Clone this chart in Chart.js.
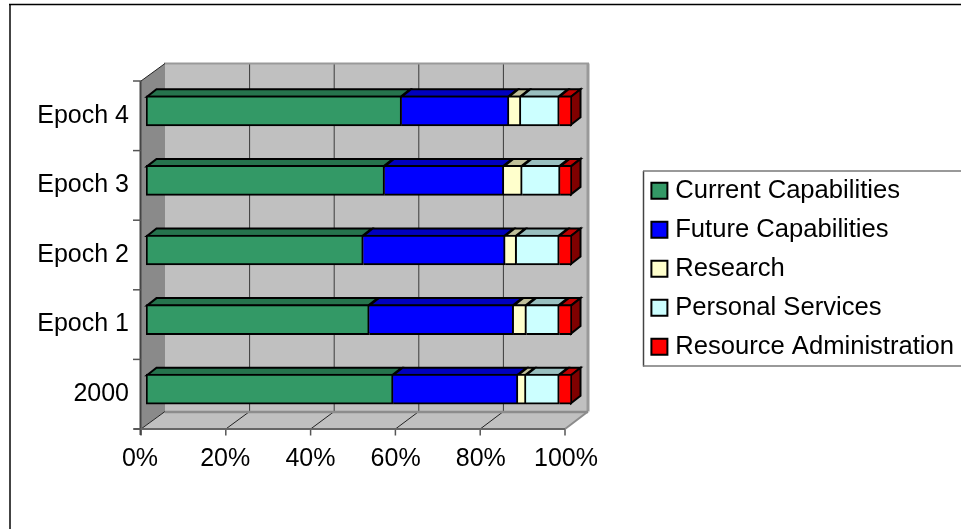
<!DOCTYPE html>
<html>
<head>
<meta charset="utf-8">
<style>
html,body{margin:0;padding:0;background:#fff}
#wrap{position:absolute;left:0;top:0;width:961px;height:529px}
</style>
<script src="https://cdn.jsdelivr.net/npm/chart.js@4"></script>
</head>
<body>
<div id="wrap"><canvas id="c" width="961" height="529"></canvas></div>
<script>
// Budget shares by period, listed from the bottom row to the top row
const categories = ['2000', 'Epoch 1', 'Epoch 2', 'Epoch 3', 'Epoch 4'];
const currentCapabilities = [58, 52.4, 51, 56, 60];
const futureCapabilities = [29.3, 33.9, 33.3, 28, 25.2];
const research = [1.9, 3, 2.7, 4.3, 2.8];
const personalServices = [7.8, 7.7, 10, 8.9, 9];
const resourceAdministration = [3, 3, 3, 2.8, 3];
const percentTicks = [0, 20, 40, 60, 80, 100];

const FONT = 'Liberation Sans, Arial, sans-serif';
const TEXT_SIZE = 25;
const LEGEND_SIZE = 25.6;

// Pseudo-3D offsets relative to the plane the bars sit on
const FRONT = {left: -5, right: -7, dy: 5};
const BACK = {left: 19, right: 16, dy: -12.5};
const BAR_DEPTH = {dx: 9.5, dy: -7.5};
const BAR_THICK = 30;

function shade(hex, f) {
  const n = parseInt(hex.slice(1), 16);
  const c = [n >> 16, (n >> 8) & 255, n & 255].map(v => Math.round(v * f));
  return `rgb(${c[0]},${c[1]},${c[2]})`;
}

function poly(ctx, pts, fill, stroke, width) {
  ctx.beginPath();
  pts.forEach((p, i) => i ? ctx.lineTo(p[0], p[1]) : ctx.moveTo(p[0], p[1]));
  ctx.closePath();
  if (fill) { ctx.fillStyle = fill; ctx.fill(); }
  if (stroke) { ctx.strokeStyle = stroke; ctx.lineWidth = width; ctx.lineJoin = 'miter'; ctx.stroke(); }
}

function seg(ctx, x1, y1, x2, y2, color, width) {
  ctx.beginPath();
  ctx.moveTo(x1, y1);
  ctx.lineTo(x2, y2);
  ctx.strokeStyle = color;
  ctx.lineWidth = width;
  ctx.stroke();
}

// Walls, floor, gridlines and axis lines of the 3D box, positioned from the scales
const boxPlugin = {
  id: 'box3d',
  afterLayout(chart) {
    const lg = chart.legend;
    lg.left = 643; lg.right = 961; lg.top = 164.5; lg.bottom = 400;
    lg.width = lg.right - lg.left; lg.height = lg.bottom - lg.top;
  },
  beforeDatasetsDraw(chart) {
    const {ctx, scales: {x, y}, chartArea: a} = chart;
    const L = a.left, R = a.right, T = a.top, B = a.bottom;
    ctx.save();

    // outer chart frame, open on the right and at the bottom
    seg(ctx, 10, 4, 10, 529, '#444', 2);
    seg(ctx, 9, 4.5, 961, 4.5, '#000', 1.5);

    // legend frame, open on the right
    seg(ctx, 643.5, 171, 643.5, 366.5, '#444', 1.5);
    seg(ctx, 643, 171, 961, 171, '#777', 1.5);
    seg(ctx, 643, 366, 961, 366, '#777', 1.5);

    const fl = L + FRONT.left, fr = R + FRONT.right, ft = T + FRONT.dy, fb = B + FRONT.dy;
    const bl = L + BACK.left, br = R + BACK.right, bt = T + BACK.dy, bb = B + BACK.dy;

    poly(ctx, [[bl, bt], [br, bt], [br, bb], [bl, bb]], '#C0C0C0');
    poly(ctx, [[fl, ft], [bl, bt], [bl, bb], [fl, fb]], '#8A8A8A');
    poly(ctx, [[fl, fb], [bl, bb], [br, bb], [fr, fb]], '#C0C0C0');

    // gridlines up the back wall and across the floor
    percentTicks.forEach(v => {
      const t = (x.getPixelForValue(v) - L) / (R - L);
      const pf = fl + t * (fr - fl), pb = bl + t * (br - bl);
      if (v > 0 && v < 100) {
        seg(ctx, pb, bt, pb, bb, '#3a3a3a', 1);
      }
      if (v < 100) {
        seg(ctx, pf, fb, pb, bb, '#222', 1);
      }
      seg(ctx, pf, fb, pf, fb + 6.5, '#555', 1.5);
    });

    // wall edges
    seg(ctx, bl - 1, bt, br + 1, bt, '#999', 2);
    seg(ctx, br, bt, br, bb, '#999', 3);
    seg(ctx, bl, bb + 0.5, br, bb + 0.5, '#8c8c8c', 2.5);
    seg(ctx, fr, fb, br, bb, '#8c8c8c', 2);
    seg(ctx, fl, ft, bl, bt, '#222', 1);

    // front axis lines and category ticks
    seg(ctx, fl - 0.5, ft, fl - 0.5, fb + 6, '#444', 2);
    seg(ctx, fl - 7, fb, fr, fb, '#666', 2);
    const band = Math.abs(y.getPixelForValue(1) - y.getPixelForValue(0));
    for (let i = 0; i <= categories.length; i++) {
      const py = y.getPixelForValue(i) + band / 2 + FRONT.dy;
      seg(ctx, fl - 8, py, fl, py, '#555', 1.5);
    }

    // top faces of each segment and the end cap of each stacked bar
    const half = BAR_THICK / 2 - 1;
    const last = chart.data.datasets.length - 1;
    chart.data.datasets.forEach((ds, di) => {
      chart.getDatasetMeta(di).data.forEach(bar => {
        const {x: xe, y: yc, base} = bar.getProps(['x', 'y', 'base'], true);
        const x0 = base + (di === 0 ? 1 : 0), x1 = xe - 1, top = yc - half;
        const dx = BAR_DEPTH.dx, dy = BAR_DEPTH.dy;
        poly(ctx, [[x0, top], [x0 + dx, top + dy], [x1 + dx, top + dy], [x1, top]],
          shade(ds.backgroundColor, 0.75), '#000', 2);
        if (di === last) {
          const bot = yc + half;
          poly(ctx, [[x1, top], [x1 + dx, top + dy], [x1 + dx, bot + dy], [x1, bot]],
            shade(ds.backgroundColor, 0.5), '#000', 2);
        }
      });
    });
    ctx.restore();
  }
};

const series = [
  ['Current Capabilities', currentCapabilities, '#339966'],
  ['Future Capabilities', futureCapabilities, '#0000FF'],
  ['Research', research, '#FFFFCC'],
  ['Personal Services', personalServices, '#CCFFFF'],
  ['Resource Administration', resourceAdministration, '#FF0000']
];

new Chart(document.getElementById('c'), {
  type: 'bar',
  plugins: [boxPlugin],
  data: {
    labels: categories,
    datasets: series.map((s, i) => ({
      label: s[0],
      data: s[1],
      backgroundColor: s[2],
      borderColor: '#000',
      borderWidth: 2,
      borderSkipped: i === 0 ? false : 'start',
      barThickness: BAR_THICK
    }))
  },
  options: {
    indexAxis: 'y',
    responsive: false,
    animation: false,
    events: [],
    layout: {padding: {top: 76, right: 389, left: 0, bottom: 0}},
    scales: {
      x: {
        type: 'linear',
        stacked: true,
        min: 0,
        max: 100,
        border: {display: false},
        grid: {display: false, drawTicks: false},
        afterFit(s) { s.height = 105; },
        ticks: {
          stepSize: 20,
          maxRotation: 0,
          autoSkip: false,
          padding: 20,
          labelOffset: -6,
          color: '#000',
          font: {family: FONT, size: TEXT_SIZE}
        ,
          callback: v => v + '%'
        }
      },
      y: {
        type: 'category',
        stacked: true,
        reverse: true,
        border: {display: false},
        grid: {display: false, drawTicks: false},
        afterFit(s) { s.width = 146; },
        ticks: {
          padding: 17,
          labelOffset: FRONT.dy,
          autoSkip: false,
          color: '#000',
          font: {family: FONT, size: TEXT_SIZE}
        }
      }
    },
    plugins: {
      title: {display: false},
      tooltip: {enabled: false},
      legend: {
        position: 'chartArea',
        align: 'start',
        labels: {
          usePointStyle: true,
          pointStyle: 'rect',
          boxWidth: 6,
          boxHeight: 16,
          padding: 39 - LEGEND_SIZE,
          color: '#000',
          font: {family: FONT, size: LEGEND_SIZE}
        }
      }
    }
  }
});
</script>
</body>
</html>
